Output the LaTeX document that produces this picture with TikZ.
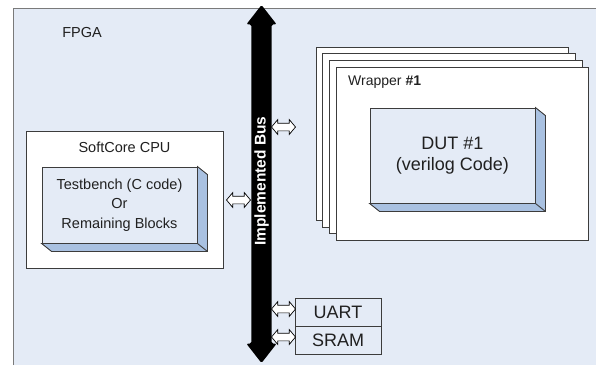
\documentclass[tikz,border=0pt]{standalone}
\usepackage{fontspec}
\setmainfont{Liberation Sans}
\usetikzlibrary{shapes.arrows}

\definecolor{fpgabg}{HTML}{E4EBF6}
\definecolor{sideblue}{HTML}{A9C1E1}
\definecolor{edgegray}{HTML}{3C3C3C}
\definecolor{framegray}{HTML}{7A7A7A}
\definecolor{inkgray}{HTML}{202020}

\begin{document}
\begin{tikzpicture}[x=1pt,y=-1pt,
  every node/.style={text=inkgray},
  plainbox/.style={draw=edgegray, line width=0.9pt, fill=white, inner sep=0pt},
  frontface/.style={draw=edgegray, line width=0.9pt, fill=fpgabg, inner sep=0pt, align=center},
  sideface/.style={draw=edgegray, line width=0.9pt, fill=sideblue, line join=miter},
  portarrow/.style={double arrow, draw=black, fill=white, line width=0.7pt,
    minimum height=24pt, inner xsep=0pt, inner ysep=3.5pt,
    double arrow head extend=3.5pt, double arrow tip angle=100},
  busarrow/.style={double arrow, fill=black, rounded corners=1.5pt, rotate=90,
    minimum height=358pt, inner xsep=0pt, inner ysep=10pt,
    double arrow head extend=5pt, double arrow tip angle=76},
  buslabel/.style={rotate=90, inner sep=0pt, text=white,
    font=\fontsize{15.5}{17}\selectfont\bfseries},
  lbl/.style={font=\fontsize{14.5}{16}\selectfont, inner sep=0pt}
]
\useasboundingbox (0,0) rectangle (596,365);

% FPGA area
\fill[fpgabg] (13,8) rectangle (596,365);
\draw[framegray, line width=0.9pt] (13,365) -- (13,8) -- (596,8);
\node[lbl] (fpga) at (82,33) {FPGA};

% system bus
\node[busarrow] (bus) at (261.5,184) {};
\node[buslabel] (buslbl) at (261.5,181) {Implemented Bus};

% soft core CPU with its test program
\node[plainbox, minimum width=197pt, minimum height=137pt] (cpu) at (124.5,199.5) {};
\node[lbl] (cpulbl) at (124.5,147) {SoftCore CPU};
\node[frontface, minimum width=155pt, minimum height=76pt,
      font=\fontsize{14.5}{19.5}\selectfont] (tb) at (119.5,205)
  {Testbench (C code)\\Or\\Remaining Blocks};
\draw[sideface] (tb.north east) -- ++(10,8) -- ([shift={(10,8)}]tb.south east)
  -- ([shift={(10,8)}]tb.south west) -- (tb.south west) -- (tb.south east) -- cycle;
\draw[sideface, fill=none] (tb.south east) -- ++(10,8);

% stacked wrappers
\foreach \k in {0,1,2,3}
  \node[plainbox, minimum width=252.7pt, minimum height=173.3pt] (w\k)
    at (442.35+6.67*\k,133.65+6.67*\k) {};
\node[lbl, anchor=west, font=\fontsize{14}{16}\selectfont] (wlbl) at (348,82) {Wrapper \textbf{\#1}};

% design under test
\node[frontface, minimum width=165pt, minimum height=95pt,
      font=\fontsize{18}{20.5}\selectfont] (dut) at (452.5,155.5)
  {DUT \#1\\(verilog Code)};
\draw[sideface] (dut.north east) -- ++(10,8) -- ([shift={(10,8)}]dut.south east)
  -- ([shift={(10,8)}]dut.south west) -- (dut.south west) -- (dut.south east) -- cycle;
\draw[sideface, fill=none] (dut.south east) -- ++(10,8);

% peripherals
\node[frontface, minimum width=86pt, minimum height=28pt,
      font=\fontsize{18}{20}\selectfont] (uart) at (338,312) {UART};
\node[frontface, minimum width=86pt, minimum height=28pt,
      font=\fontsize{18}{20}\selectfont] (sram) at (338,340) {SRAM};

% bus ports
\node[portarrow] (pcpu) at (238.5,200) {};
\node[portarrow] (pwrap) at (283.5,127) {};
\node[portarrow] (puart) at (283.5,309) {};
\node[portarrow] (psram) at (283.5,337) {};
\end{tikzpicture}
\end{document}
